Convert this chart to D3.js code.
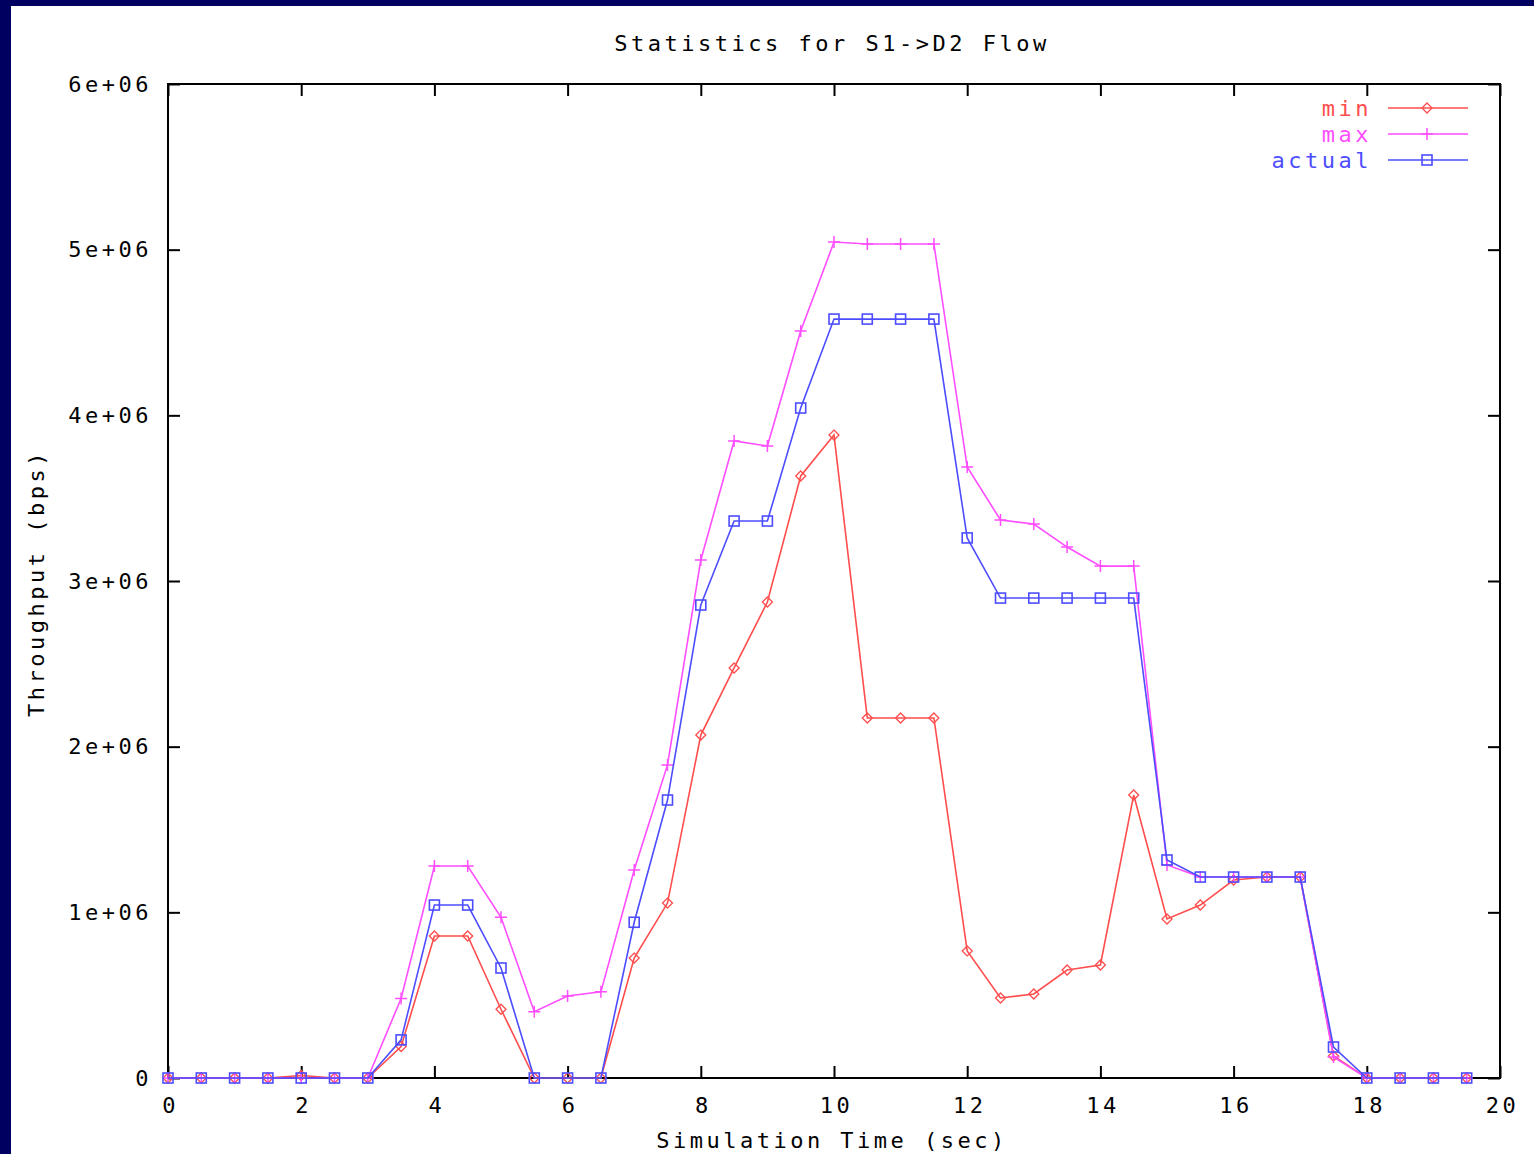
<!DOCTYPE html>
<html>
<head>
<meta charset="utf-8">
<script src="https://cdn.jsdelivr.net/npm/d3@7"></script>
<style>
  html, body { margin: 0; padding: 0; background: #000060; }
  svg { display: block; }
  text { font-family: "DejaVu Sans Mono", monospace; font-size: 22px; fill: #000; letter-spacing: 3.5px; }
</style>
</head>
<body>
<script>
// Sample times (seconds)
const times = [0,0.5,1,1.5,2,2.5,3,3.5,4,4.5,5,5.5,6,6.5,7,7.5,8,8.5,9,9.5,
               10,10.5,11,11.5,12,12.5,13,13.5,14,14.5,15,15.5,16,16.5,17,17.5,18,18.5,19,19.5];

// Throughput series (bps)
const minValues = [0,0,0,0,15000,0,0,190000,857000,857000,415000,0,0,0,724000,1056000,2070000,2475000,2873000,3634000,
                   3881000,2173000,2173000,2173000,767000,483000,507000,652000,682000,1708000,960000,1044000,1195000,1213000,1213000,133000,0,0,0,0];
const maxValues = [0,0,0,0,0,0,0,480000,1280000,1280000,970000,400000,495000,520000,1255000,1890000,3127000,3845000,3815000,4509000,
                   5046000,5034000,5034000,5034000,3688000,3368000,3344000,3205000,3090000,3090000,1286000,1213000,1213000,1213000,1213000,127000,0,0,0,0];
const actualValues = [0,0,0,0,0,0,0,230000,1044000,1044000,664000,0,0,0,940000,1678000,2855000,3362000,3362000,4044000,
                      4581000,4581000,4581000,4581000,3260000,2897000,2897000,2897000,2897000,2897000,1316000,1213000,1213000,1213000,1213000,187000,0,0,0,0];

const seriesNames = ["min", "max", "actual"];
const xTicks = [0,2,4,6,8,10,12,14,16,18,20];
const yTicks = [0,1e6,2e6,3e6,4e6,5e6,6e6];
const yTickLabels = ["0","1e+06","2e+06","3e+06","4e+06","5e+06","6e+06"];

const title = "Statistics for S1->D2 Flow";
const xTitle = "Simulation Time (sec)";
const yTitle = "Throughput (bps)";

const W = 1534, H = 1154;
const colors = { min: "#ff4d4d", max: "#ff4dff", actual: "#4d4dff" };

const svg = d3.select("body").append("svg").attr("width", W).attr("height", H);

// navy frame on top and left, white canvas
svg.append("rect").attr("width", W).attr("height", H).attr("fill", "#000060");
svg.append("rect").attr("x", 11).attr("y", 6).attr("width", W - 11).attr("height", H - 6).attr("fill", "#fff");

const plot = { left: 168, right: 1500, top: 84, bottom: 1078 };
const x = d3.scaleLinear().domain([0, 20]).range([plot.left, plot.right]);
const y = d3.scaleLinear().domain([0, 6e6]).range([plot.bottom, plot.top]);

const tickLen = 12;
const axisG = svg.append("g");

// ticks on all four sides, pointing inward
const bottomAxis = d3.axisBottom(x).tickValues(xTicks).tickSize(-tickLen).tickPadding(19).tickFormat(d3.format("d"));
const topAxis = d3.axisTop(x).tickValues(xTicks).tickSize(-tickLen).tickFormat("");
const leftAxis = d3.axisLeft(y).tickValues(yTicks).tickSize(-tickLen).tickPadding(16)
  .tickFormat((d, i) => yTickLabels[i]);
const rightAxis = d3.axisRight(y).tickValues(yTicks).tickSize(-tickLen).tickFormat("");

function styleAxis(g) {
  g.select(".domain").remove();
  g.selectAll(".tick line").attr("stroke", "#000").attr("stroke-width", 2);
  g.selectAll(".tick text").attr("fill", "#000").attr("font-family", null).attr("font-size", null);
}

axisG.append("g").attr("transform", `translate(0,${plot.bottom})`).call(bottomAxis).call(styleAxis)
  .selectAll(".tick text").attr("dy", "0.71em").attr("text-anchor", "middle").attr("dx", "2px");
axisG.append("g").attr("transform", `translate(0,${plot.top})`).call(topAxis).call(styleAxis);
axisG.append("g").attr("transform", `translate(${plot.left},0)`).call(leftAxis).call(styleAxis);
axisG.append("g").attr("transform", `translate(${plot.right},0)`).call(rightAxis).call(styleAxis);

// frame
svg.append("rect")
  .attr("x", plot.left).attr("y", plot.top)
  .attr("width", plot.right - plot.left).attr("height", plot.bottom - plot.top)
  .attr("fill", "none").attr("stroke", "#000").attr("stroke-width", 2);

// titles
svg.append("text").attr("x", 832).attr("y", 51).attr("text-anchor", "middle").text(title);
svg.append("text").attr("x", 832).attr("y", 1148).attr("text-anchor", "middle").text(xTitle);
svg.append("text").attr("transform", `translate(44,583) rotate(-90)`).attr("text-anchor", "middle").text(yTitle);

// markers
function marker(g, type, cx, cy, color) {
  if (type === "min") {
    const s = 5;
    g.append("path").attr("d", `M${cx},${cy - s}L${cx + s},${cy}L${cx},${cy + s}L${cx - s},${cy}Z`)
      .attr("fill", "none").attr("stroke", color).attr("stroke-width", 1.3);
  } else if (type === "max") {
    const s = 6;
    g.append("path").attr("d", `M${cx - s},${cy}H${cx + s}M${cx},${cy - s}V${cy + s}`)
      .attr("stroke", color).attr("stroke-width", 1.5);
  } else {
    const s = 5;
    g.append("rect").attr("x", cx - s).attr("y", cy - s).attr("width", 2 * s).attr("height", 2 * s)
      .attr("fill", "none").attr("stroke", color).attr("stroke-width", 1.6);
  }
}

const seriesData = { min: minValues, max: maxValues, actual: actualValues };
const line = d3.line().x(d => x(d[0])).y(d => y(d[1]));

seriesNames.forEach(name => {
  const pts = times.map((t, i) => [t, seriesData[name][i]]);
  const g = svg.append("g");
  g.append("path").datum(pts).attr("d", line)
    .attr("fill", "none").attr("stroke", colors[name]).attr("stroke-width", 1.6);
  pts.forEach(p => marker(g, name, x(p[0]), y(p[1]), colors[name]));
});

// legend
const legend = svg.append("g");
seriesNames.forEach((name, i) => {
  const ly = 108 + i * 26;
  legend.append("text").attr("x", 1372).attr("y", ly + 8).attr("text-anchor", "end")
    .style("fill", colors[name]).text(name);
  legend.append("line").attr("x1", 1388).attr("x2", 1468).attr("y1", ly).attr("y2", ly)
    .attr("stroke", colors[name]).attr("stroke-width", 1.6);
  marker(legend, name, 1427, ly, colors[name]);
});
</script>
</body>
</html>
